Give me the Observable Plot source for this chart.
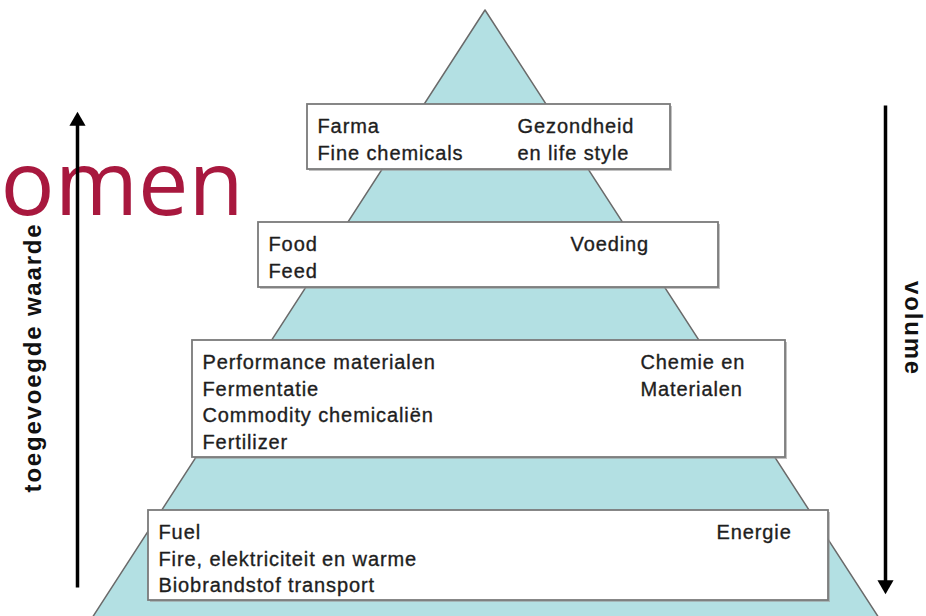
<!DOCTYPE html>
<html>
<head>
<meta charset="utf-8">
<script src="https://cdn.jsdelivr.net/npm/d3@7"></script>
<script src="https://cdn.jsdelivr.net/npm/@observablehq/plot@0.6"></script>
<style>
  html, body { margin: 0; padding: 0; background: #fff; }
  #chart svg { display: block; }
  #chart g[font-size="20"] text { letter-spacing: 0.9px; }
  #chart g[font-size="24"] text { letter-spacing: 1.8px; }
</style>
</head>
<body>
<div id="chart"></div>
<script>
// ---- content ----
const levels = ["Gezondheid", "Voeding", "Chemie", "Energie"];
const leftLines = [
  ["Farma", "Fine chemicals"],
  ["Food", "Feed"],
  ["Performance materialen", "Fermentatie", "Commodity chemicaliën", "Fertilizer"],
  ["Fuel", "Fire, elektriciteit en warme", "Biobrandstof transport"]
];
const rightLines = [
  ["Gezondheid", "en life style"],
  ["Voeding"],
  ["Chemie en", "Materialen"],
  ["Energie"]
];
const axisLabels = ["toegevoegde waarde", "volume"];
const overlayWord = "omen";

// ---- layout (diagram coordinates) ----
const pyramidY = [10, 618];
const pyramidLeft = [485, 92];
const pyramidRight = [485, 879];
const boxX1 = [307, 258, 192, 148];
const boxX2 = [670, 718, 785, 828];
const boxY1 = [104, 222, 340, 510];
const boxY2 = [169, 287, 457, 600];
const rightColX = [517, 570, 640, 716];
const arrowX = [77, 885];
const arrowTop = [112, 105];
const arrowBottom = [587, 593];

// ---- derived tables ----
const pyramid = pyramidY.map((y, i) => ({y, l: pyramidLeft[i], r: pyramidRight[i]}));
const boxes = levels.map((name, i) => ({name, x1: boxX1[i], x2: boxX2[i], y1: boxY1[i], y2: boxY2[i]}));
const lineGap = 26.5, firstOffset = 28.5;
const textRows = [];
levels.forEach((name, i) => {
  leftLines[i].forEach((t, j) => textRows.push({t, x: boxX1[i] + 10, y: boxY1[i] + firstOffset + j * lineGap}));
  rightLines[i].forEach((t, j) => textRows.push({t, x: rightColX[i], y: boxY1[i] + firstOffset + j * lineGap}));
});
const shafts = [
  {x: arrowX[0], y1: arrowTop[0] + 10, y2: arrowBottom[0]},
  {x: arrowX[1], y1: arrowTop[1], y2: arrowBottom[1] - 10}
];
const heads = [
  {x: arrowX[0], y: arrowTop[0] + 8.5, rot: 0},
  {x: arrowX[1], y: arrowBottom[1] - 8.5, rot: 180}
];
const labels = [
  {t: axisLabels[0], x: 33, y: 357, rot: -90},
  {t: axisLabels[1], x: 912, y: 328, rot: 90}
];

const chart = Plot.plot({
  width: 926,
  height: 616,
  margin: 0,
  x: {domain: [0, 926], range: [0, 926], axis: null},
  y: {domain: [0, 616], range: [0, 616], axis: null},
  style: {background: "#fff"},
  marks: [
    Plot.areaX(pyramid, {y: "y", x1: "l", x2: "r", fill: "#b3e0e3", stroke: "#6a6a6a", strokeWidth: 1.5}),
    Plot.rect(boxes, {x1: d => d.x1 + 2, x2: d => d.x2 + 2, y1: d => d.y1 + 2, y2: d => d.y2 + 2, fill: "#9a9a9a", fillOpacity: 0.6}),
    Plot.rect(boxes, {x1: "x1", x2: "x2", y1: "y1", y2: "y2", fill: "#fff", stroke: "#7a7a7a", strokeWidth: 1.8}),
    Plot.text(textRows, {x: "x", y: "y", text: "t", textAnchor: "start", lineAnchor: "bottom",
      fontSize: 20, fill: "#1e1e1e", stroke: "#1e1e1e", strokeWidth: 0.35,
      fontFamily: "Liberation Sans, Arial, sans-serif"}),
    Plot.text([overlayWord], {x: 0, y: 214, text: d => d, textAnchor: "start", lineAnchor: "bottom",
      fontSize: 90, fill: "#a8183e", fontFamily: "Open Sans, Noto Sans, sans-serif"}),
    Plot.link(shafts, {x1: "x", x2: "x", y1: "y1", y2: "y2", stroke: "#000", strokeWidth: 3.5}),
    Plot.dot(heads, {x: "x", y: "y", symbol: "triangle", r: 6, fill: "#000", stroke: "none", rotate: "rot"}),
    Plot.text(labels, {x: "x", y: "y", text: "t", rotate: "rot", fontSize: 24, fontWeight: "bold",
      fill: "#111", fontFamily: "Liberation Sans, Arial, sans-serif", textAnchor: "middle", lineAnchor: "middle"})
  ]
});
document.getElementById("chart").appendChild(chart);
</script>
</body>
</html>
